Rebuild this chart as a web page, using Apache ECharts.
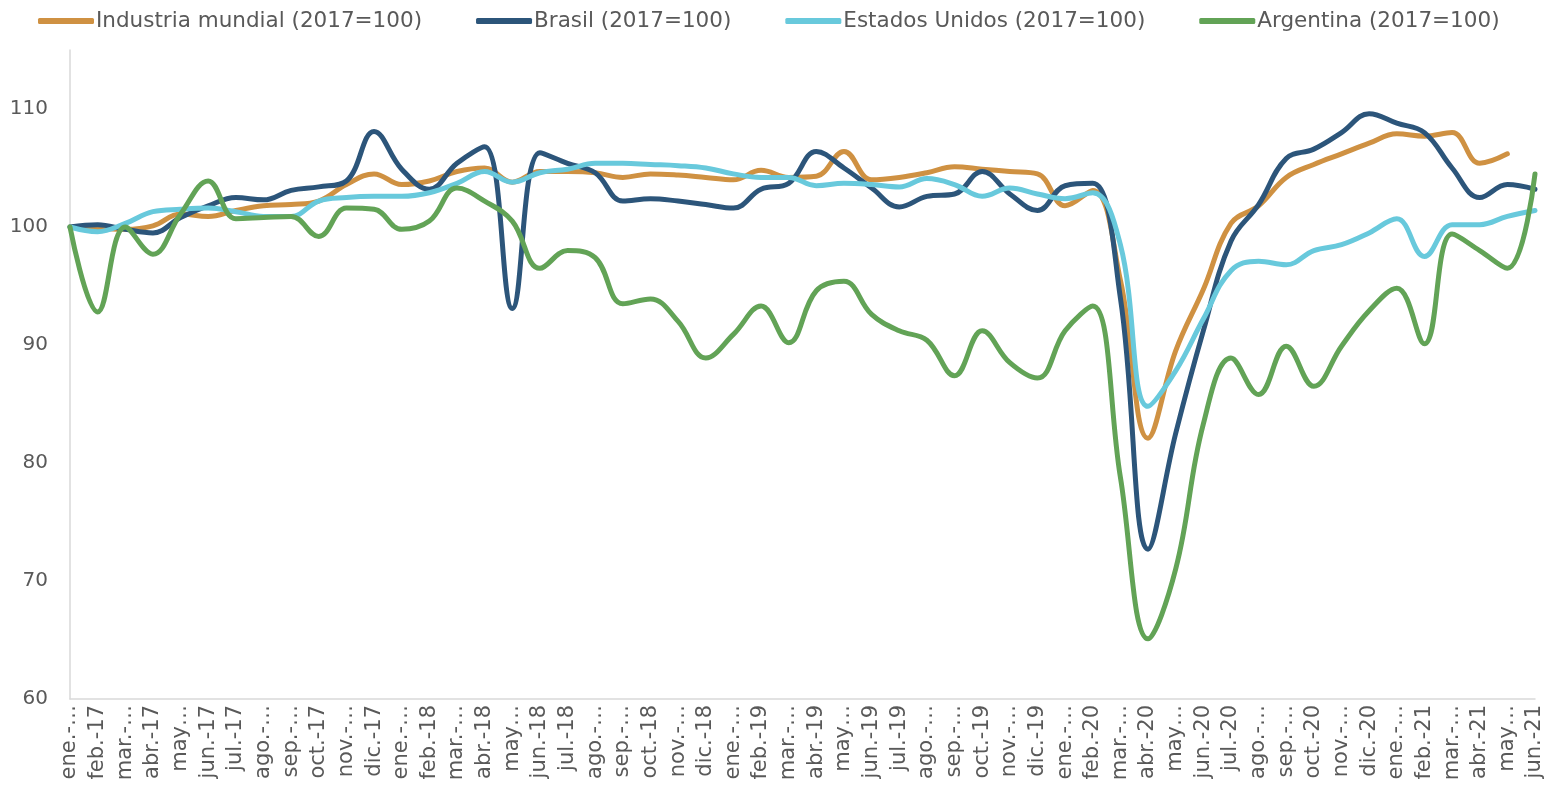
<!DOCTYPE html>
<html>
<head>
<meta charset="utf-8">
<script src="https://cdn.jsdelivr.net/npm/echarts@6/dist/echarts.min.js"></script>
<style>
  html, body { margin: 0; padding: 0; background: #fff; }
  #main { width: 1555px; height: 795px; }
</style>
</head>
<body>
<div id="main"></div>
<script>
// categorias (meses ene.-17 ... jun.-21)
const meses = ['ene.', 'feb.', 'mar.', 'abr.', 'may.', 'jun.', 'jul.', 'ago.', 'sep.', 'oct.', 'nov.', 'dic.']
const anios = ['17', '18', '19', '20', '21']
// etiquetas que Excel recorta en el eje
const recortadas = { 'ene.': 'ene.-…', 'mar.': 'mar.-…', 'may.': 'may…', 'ago.': 'ago.-…', 'sep.': 'sep.-…', 'nov.': 'nov.-…' }

const categories = []
const tickLabels = []
anios.forEach(function (a) {
  meses.forEach(function (m) {
    categories.push(m + '-' + a)
    tickLabels.push(recortadas[m] || (m + '-' + a))
  })
})
categories.length = 54
tickLabels.length = 54

const industriaMundial = [
  100, 99.9, 99.8, 100.1, 101.1, 100.9, 101.4, 101.8, 101.9, 102.2, 103.6, 104.5,
  103.6, 103.9, 104.7, 105.0, 103.8, 104.7, 104.7, 104.6, 104.2, 104.5, 104.4, 104.2,
  104.0, 104.8, 104.2, 104.3, 106.4, 104.0, 104.2, 104.6, 105.1, 104.9, 104.7, 104.5,
  101.8, 103.1, 95.5, 82.1, 89.5, 94.7, 100.3, 101.8, 104.2, 105.3, 106.2, 107.1,
  107.9, 107.7, 108.0, 105.4, 106.2, null
]
const brasil = [
  100, 100.2, 99.8, 99.5, 100.8, 101.8, 102.5, 102.3, 103.1, 103.4, 103.9, 108.1,
  104.9, 103.2, 105.4, 106.8, 93.1, 106.3, 105.4, 104.6, 102.2, 102.4, 102.2, 101.9,
  101.6, 103.2, 103.7, 106.4, 105.0, 103.3, 101.7, 102.6, 102.8, 104.7, 102.8, 101.4,
  103.5, 103.7, 94.0, 72.7, 82.5, 91.2, 98.8, 101.9, 105.8, 106.6, 108.0, 109.6,
  108.8, 108.0, 105.0, 102.5, 103.6, 103.2
]
const estadosUnidos = [
  100, 99.6, 100.3, 101.3, 101.5, 101.6, 101.3, 100.9, 100.9, 102.2, 102.5, 102.6,
  102.6, 102.9, 103.7, 104.7, 103.8, 104.6, 104.9, 105.4, 105.4, 105.3, 105.2, 105.0,
  104.5, 104.2, 104.2, 103.5, 103.7, 103.6, 103.4, 104.1, 103.6, 102.6, 103.3, 102.8,
  102.4, 102.9, 98.5, 84.8, 87.8, 92.2, 96.3, 97.1, 96.8, 98.0, 98.5, 99.5,
  100.7, 97.5, 100.2, 100.2, 100.9, 101.4
]
const argentina = [
  100, 92.8, 100, 97.7, 101.1, 103.9, 100.7, 100.8, 100.9, 99.2, 101.6, 101.5,
  99.8, 100.5, 103.3, 102.2, 100.5, 96.5, 98.0, 97.4, 93.5, 93.9, 92.0, 88.9,
  90.9, 93.3, 90.2, 94.6, 95.4, 92.6, 91.2, 90.4, 87.4, 91.2, 88.5, 87.2,
  91.2, 93.3, 78.8, 65.1, 71.0, 83.3, 88.9, 85.8, 89.9, 86.5, 89.9, 92.9,
  94.8, 90.1, 99.4, 98.0, 96.5, 104.5
]

const fuente = 'DejaVu Sans, Verdana, sans-serif'
const gris = '#595959'

function serie(name, data, color) {
  return {
    name: name,
    type: 'line',
    data: data,
    smooth: 0.4,
    showSymbol: false,
    lineStyle: { width: 5, color: color, cap: 'round', join: 'round' },
    itemStyle: { color: color }
  }
}

var myChart = echarts.init(document.getElementById('main'), null, { width: 1555, height: 795 })
myChart.setOption({
  animation: false,
  backgroundColor: '#fff',
  legend: {
    top: 10,
    left: 38,
    padding: 0,
    icon: 'roundRect',
    itemWidth: 56,
    itemHeight: 6,
    itemGap: 54,
    textStyle: { fontFamily: fuente, fontSize: 21.5, color: gris, padding: [0, 0, 0, -3] }
  },
  grid: { left: 70, right: 20, top: 50, bottom: 96 },
  xAxis: {
    type: 'category',
    boundaryGap: false,
    data: categories,
    axisLine: { lineStyle: { color: '#d9d9d9', width: 1.5 } },
    axisTick: { show: false },
    axisLabel: {
      interval: 0,
      rotate: 90,
      margin: 6,
      fontFamily: fuente,
      fontSize: 21,
      color: gris,
      formatter: function (v, i) { return tickLabels[i] }
    }
  },
  yAxis: {
    type: 'value',
    min: 60,
    max: 115,
    interval: 10,
    splitLine: { show: false },
    axisLine: { show: true, lineStyle: { color: '#d9d9d9', width: 1.5 } },
    axisTick: { show: false },
    axisLabel: {
      showMaxLabel: false,
      margin: 22,
      fontFamily: fuente,
      fontSize: 20,
      color: gris
    }
  },
  series: [
    serie('Industria mundial (2017=100)', industriaMundial, '#cf9142'),
    serie('Brasil (2017=100)', brasil, '#2c557a'),
    serie('Estados Unidos (2017=100)', estadosUnidos, '#68c9dc'),
    serie('Argentina (2017=100)', argentina, '#62a356')
  ]
})
</script>
</body>
</html>
